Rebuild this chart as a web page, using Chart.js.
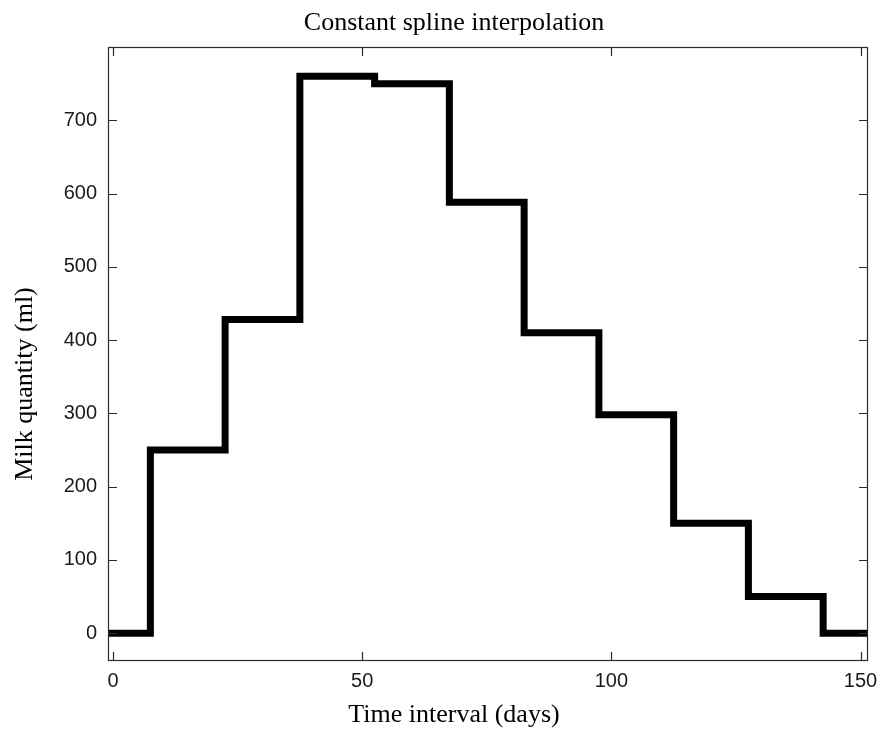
<!DOCTYPE html>
<html><head><meta charset="utf-8">
<script src="https://cdn.jsdelivr.net/npm/chart.js@4/dist/chart.umd.min.js"></script>
<style>html,body{margin:0;padding:0;background:#fff}#wrap{width:880px;height:729px}</style>
</head><body><div id="wrap"><canvas id="c" width="880" height="729"></canvas></div>
<script>
const days = [0, 15, 30, 45, 60, 75, 90, 105, 120, 135, 150];
const milk = [0, 250, 428, 760, 750, 588, 410, 298, 150, 50, 0];
const xTicks = [0, 50, 100, 150];
const yTicks = [0, 100, 200, 300, 400, 500, 600, 700];
const xRange = [-1, 151.5];
const yRange = [-38, 800];
const titleText = 'Constant spline interpolation';
const xLabel = 'Time interval (days)';
const yLabel = 'Milk quantity (ml)';

// constant (nearest) extension to the axis limits
const pts = [{x: xRange[0], y: milk[0]}]
  .concat(days.map((d, i) => ({x: d, y: milk[i]})))
  .concat([{x: xRange[1], y: milk[milk.length - 1]}]);

const serif = '"Liberation Serif","Times New Roman",serif';
const sans = '"Liberation Sans",Arial,Helvetica,sans-serif';
const axisColor = '#2b2b2b';

const framePlugin = {
  id: 'frame',
  afterDraw(chart) {
    const ctx = chart.ctx, a = chart.chartArea;
    const xs = chart.scales.x, ys = chart.scales.y;
    ctx.save();
    ctx.strokeStyle = axisColor;
    ctx.lineWidth = 1.2;
    ctx.strokeRect(Math.round(a.left) + 0.5, Math.round(a.top) + 0.5,
                   Math.round(a.right - a.left) - 1, Math.round(a.bottom - a.top) - 1);
    const tl = 9;
    ctx.beginPath();
    xTicks.forEach(v => {
      const p = Math.round(xs.getPixelForValue(v)) + 0.5;
      ctx.moveTo(p, a.bottom); ctx.lineTo(p, a.bottom - tl);
      ctx.moveTo(p, a.top); ctx.lineTo(p, a.top + tl);
    });
    yTicks.forEach(v => {
      const p = Math.round(ys.getPixelForValue(v)) + 0.5;
      ctx.moveTo(a.left, p); ctx.lineTo(a.left + tl, p);
      ctx.moveTo(a.right, p); ctx.lineTo(a.right - tl, p);
    });
    ctx.stroke();
    ctx.fillStyle = '#000';
    ctx.font = '26px ' + serif;
    ctx.textAlign = 'center';
    ctx.textBaseline = 'alphabetic';
    ctx.fillText(titleText, 454, 30);
    ctx.fillText(xLabel, 454, 722);
    ctx.translate(31.5, 384);
    ctx.rotate(-Math.PI / 2);
    ctx.fillText(yLabel, 0, 0);
    ctx.restore();
  }
};

new Chart(document.getElementById('c'), {
  type: 'line',
  data: {
    datasets: [{
      data: pts,
      stepped: 'middle',
      borderColor: '#000',
      borderWidth: 7,
      pointRadius: 0,
      fill: false,
      borderCapStyle: 'butt',
      borderJoinStyle: 'miter'
    }]
  },
  options: {
    responsive: false,
    animation: false,
    devicePixelRatio: 1,
    layout: {padding: {top: 47, right: 12, left: 0, bottom: 0}},
    plugins: {legend: {display: false}, tooltip: {enabled: false}, title: {display: false}},
    scales: {
      x: {
        type: 'linear',
        min: xRange[0], max: xRange[1],
        afterBuildTicks: s => { s.ticks = xTicks.map(v => ({value: v})); },
        afterFit: s => { s.height = 68; s.paddingLeft = 0; s.paddingRight = 0; },
        grid: {display: false, drawTicks: false},
        border: {display: false},
        ticks: {padding: 8, color: '#1a1a1a', font: {family: sans, size: 20}, maxRotation: 0, autoSkip: false}
      },
      y: {
        type: 'linear',
        min: yRange[0], max: yRange[1],
        afterBuildTicks: s => { s.ticks = yTicks.map(v => ({value: v})); },
        afterFit: s => { s.width = 108; s.paddingTop = 0; s.paddingBottom = 0; },
        grid: {display: false, drawTicks: false},
        border: {display: false},
        ticks: {padding: 11, color: '#1a1a1a', font: {family: sans, size: 20}, autoSkip: false}
      }
    }
  },
  plugins: [framePlugin]
});
</script>
</body></html>
